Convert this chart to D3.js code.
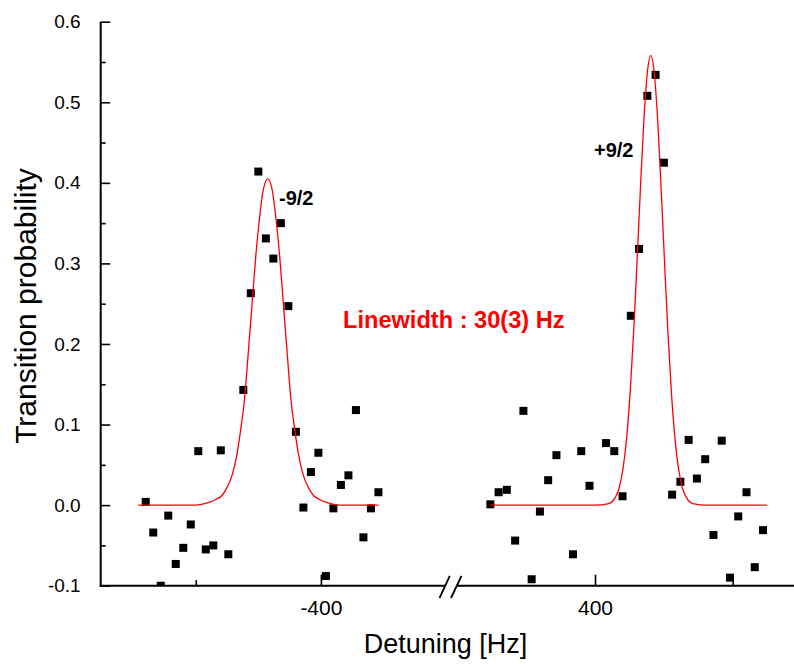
<!DOCTYPE html>
<html>
<head>
<meta charset="utf-8">
<script src="https://cdn.jsdelivr.net/npm/d3@7"></script>
<style>
  html, body { margin: 0; padding: 0; background: #fff; }
  svg { display: block; }
  text { font-family: "Liberation Sans", Arial, Helvetica, sans-serif; }
</style>
</head>
<body>
<svg id="chart" width="794" height="664"></svg>
<script>
// ---------------- data ----------------
// Left resonance (-9/2): detuning [Hz] and transition probability
const leftDetuning = [-540,-534,-528,-522,-516,-510,-504,-498,-492,-486,-480,-474,-462,-456,-450,-444,-438,-432,-426,-420,-414,-408,-402,-396,-390,-384,-378,-372,-366,-360,-354];
const leftProb     = [0.004,-0.034,-0.100,-0.013,-0.073,-0.053,-0.024,0.067,-0.055,-0.050,0.068,-0.061,0.143,0.263,0.414,0.331,0.306,0.350,0.247,0.091,-0.003,0.041,0.065,-0.088,-0.004,0.025,0.037,0.118,-0.040,-0.004,0.016];

// Right resonance (+9/2)
const rightDetuning = [324,330,336,342,348,354,360,366,372,384,390,396,408,414,420,426,432,438,444,450,456,462,468,474,480,486,492,498,504,510,516,522];
const rightProb     = [0.001,0.016,0.019,-0.044,0.117,-0.092,-0.008,0.031,0.062,-0.061,0.067,0.024,0.077,0.067,0.011,0.235,0.318,0.508,0.534,0.425,0.013,0.029,0.081,0.033,0.057,-0.037,0.080,-0.090,-0.014,0.016,-0.077,-0.031];

// Fitted line shapes
const leftFitX = [-546,-500,-490,-484,-479,-475,-471,-467,-464,-461,-458,-455,-452,-449,-446,-442.5,-439,-436,-433,-430,-427,-424,-421,-418,-414,-410,-406,-401,-395,-385,-354];
const leftFitY = [0,0,0.003,0.007,0.012,0.022,0.037,0.064,0.095,0.132,0.190,0.250,0.310,0.357,0.392,0.405,0.392,0.357,0.310,0.250,0.190,0.132,0.095,0.064,0.037,0.022,0.012,0.007,0.003,0,0];

const rightFitX = [324,400,410,414.5,417.5,420.5,423,425.5,428,430.5,433,435.5,438,440.5,443,445.5,448,450.5,453,455.5,458,460.5,463.5,466.5,471,481,525];
const rightFitY = [0,0,0.002,0.009,0.021,0.047,0.084,0.139,0.213,0.301,0.394,0.478,0.537,0.558,0.537,0.478,0.394,0.301,0.213,0.139,0.084,0.047,0.021,0.009,0.002,0,0];

// Axis ticks
const yMajorTicks = [-0.1,0.0,0.1,0.2,0.3,0.4,0.5,0.6];
const yMinorTicks = [-0.05,0.05,0.15,0.25,0.35,0.45,0.55];
const xLeftMajor  = [-400];
const xLeftMinor  = [-500];
const xRightMajor = [400];
const xRightMinor = [500];

// Texts
const xTitle = "Detuning [Hz]";
const yTitle = "Transition probability";
const leftLabel = "-9/2";
const rightLabel = "+9/2";
const fitNote = "Linewidth : 30(3) Hz";

// ---------------- layout ----------------
const svg = d3.select("#chart");
const plotLeft = 100.7, plotTop = 21.7, plotBottom = 585.7, plotRight = 794;

const y = d3.scaleLinear().domain([-0.1, 0.6]).range([plotBottom, plotTop]);
const xL = d3.scaleLinear().domain([-576, -300]).range([plotLeft, 446]);
const xR = d3.scaleLinear().domain([295, 545]).range([450.4, 794.7]);

svg.append("defs").append("clipPath").attr("id", "plotClip")
  .append("rect").attr("x", plotLeft).attr("y", plotTop - 10)
  .attr("width", plotRight - plotLeft).attr("height", plotBottom - plotTop + 10);

// ---------------- axes ----------------
const fmtY = d => d.toFixed(1);

const yAx = svg.append("g").attr("transform", `translate(${plotLeft},0)`)
  .call(d3.axisLeft(y).tickValues(yMajorTicks).tickFormat(fmtY).tickSize(-9.5).tickSizeOuter(0).tickPadding(20));
yAx.select(".domain").remove();
yAx.selectAll(".tick line").attr("stroke", "#000").attr("stroke-width", 1.6);
yAx.selectAll(".tick text").attr("font-size", 19).attr("fill", "#000");

const yAxMinor = svg.append("g").attr("transform", `translate(${plotLeft},0)`)
  .call(d3.axisLeft(y).tickValues(yMinorTicks).tickFormat("").tickSize(-5).tickSizeOuter(0));
yAxMinor.select(".domain").remove();
yAxMinor.selectAll(".tick line").attr("stroke", "#000").attr("stroke-width", 1.6);

function bottomAxis(scale, major, minor) {
  const g = svg.append("g").attr("transform", `translate(0,${plotBottom})`)
    .call(d3.axisBottom(scale).tickValues(major).tickFormat(d => String(d)).tickSize(-11).tickSizeOuter(0).tickPadding(14.5));
  g.select(".domain").remove();
  g.selectAll(".tick line").attr("stroke", "#000").attr("stroke-width", 1.6);
  g.selectAll(".tick text").attr("font-size", 21).attr("fill", "#000");
  const gm = svg.append("g").attr("transform", `translate(0,${plotBottom})`)
    .call(d3.axisBottom(scale).tickValues(minor).tickFormat("").tickSize(-5.5).tickSizeOuter(0));
  gm.select(".domain").remove();
  gm.selectAll(".tick line").attr("stroke", "#000").attr("stroke-width", 1.6);
}
bottomAxis(xL, xLeftMajor, xLeftMinor);
bottomAxis(xR, xRightMajor, xRightMinor);

// axis lines
const axisG = svg.append("g").attr("stroke", "#000").attr("stroke-width", 2).attr("fill", "none");
axisG.append("line").attr("x1", plotLeft).attr("x2", plotLeft).attr("y1", plotTop).attr("y2", plotBottom + 1);
axisG.append("line").attr("x1", plotLeft - 1).attr("x2", 445).attr("y1", plotBottom).attr("y2", plotBottom);
axisG.append("line").attr("x1", 456.5).attr("x2", plotRight).attr("y1", plotBottom).attr("y2", plotBottom);
// break marks
axisG.append("line").attr("x1", 439.5).attr("y1", 598).attr("x2", 449.8).attr("y2", 575.8).attr("stroke-width", 1.8);
axisG.append("line").attr("x1", 451).attr("y1", 598).attr("x2", 461.5).attr("y2", 575.8).attr("stroke-width", 1.8);

// ---------------- data marks ----------------
const plot = svg.append("g").attr("clip-path", "url(#plotClip)");
const sq = 8;
const leftPts = leftDetuning.map((d, i) => ({x: d, y: leftProb[i]}));
const rightPts = rightDetuning.map((d, i) => ({x: d, y: rightProb[i]}));

plot.append("g").selectAll("rect").data(leftPts).join("rect")
  .attr("x", d => xL(d.x) - sq / 2).attr("y", d => y(d.y) - sq / 2)
  .attr("width", sq).attr("height", sq).attr("fill", "#000");
plot.append("g").selectAll("rect").data(rightPts).join("rect")
  .attr("x", d => xR(d.x) - sq / 2).attr("y", d => y(d.y) - sq / 2)
  .attr("width", sq).attr("height", sq).attr("fill", "#000");

const leftFit = leftFitX.map((d, i) => [d, leftFitY[i]]);
const rightFit = rightFitX.map((d, i) => [d, rightFitY[i]]);
const lineL = d3.line().x(d => xL(d[0])).y(d => y(d[1])).curve(d3.curveMonotoneX);
const lineR = d3.line().x(d => xR(d[0])).y(d => y(d[1])).curve(d3.curveMonotoneX);
plot.append("path").attr("d", lineL(leftFit)).attr("fill", "none").attr("stroke", "#ff0000").attr("stroke-width", 1.3);
plot.append("path").attr("d", lineR(rightFit)).attr("fill", "none").attr("stroke", "#ff0000").attr("stroke-width", 1.3);

// ---------------- texts ----------------
svg.append("text").attr("x", 279).attr("y", 205).attr("font-size", 20).attr("font-weight", "bold").attr("fill", "#000").text(leftLabel);
svg.append("text").attr("x", 594).attr("y", 157).attr("font-size", 20).attr("font-weight", "bold").attr("fill", "#000").text(rightLabel);
svg.append("text").attr("x", 343).attr("y", 328).attr("font-size", 23.6).attr("font-weight", "bold").attr("fill", "#ff0000").text(fitNote);

svg.append("text").attr("x", 445.5).attr("y", 653).attr("text-anchor", "middle").attr("font-size", 27).attr("fill", "#000").text(xTitle);
svg.append("text").attr("transform", "translate(36,306) rotate(-90)").attr("text-anchor", "middle").attr("font-size", 30).attr("fill", "#000").text(yTitle);
</script>
</body>
</html>
